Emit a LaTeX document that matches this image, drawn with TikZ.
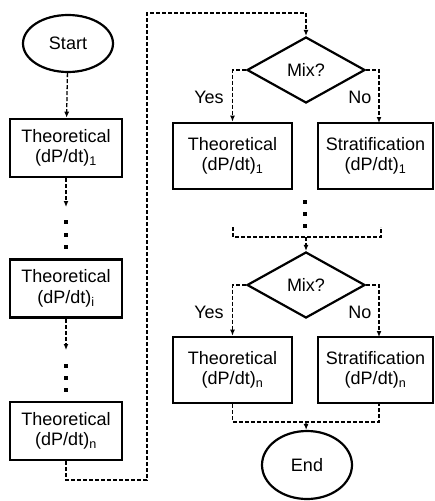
\documentclass[tikz,border=0pt]{standalone}
\usepackage{fontspec}
\setmainfont{Liberation Sans}
\usetikzlibrary{shapes.geometric,arrows.meta}
\begin{document}
\begin{tikzpicture}[x=1pt,y=-1pt,
  txt/.style={font=\fontsize{18}{20.5}\selectfont,align=center},
  lbox/.style={txt,draw,line width=2.6pt,minimum width=112pt,minimum height=58pt,inner sep=0pt},
  rbox/.style={txt,draw,line width=2.6pt,minimum height=66pt,inner sep=0pt},
  term/.style={txt,draw,ellipse,line width=2.2pt,minimum width=90pt,inner sep=0pt},
  decision/.style={txt,draw,diamond,line width=2.2pt,minimum width=118pt,minimum height=66pt,inner sep=0pt,shape aspect=1.79},
  conn/.style={line width=1.3pt,dash pattern=on 4pt off 2pt},
  arr/.style={conn,-{Latex[length=6pt,width=5pt]}},
  dot/.style={fill,rectangle,inner sep=0pt,minimum size=3.8pt},
  lab/.style={txt}]
\useasboundingbox (0,0) rectangle (435,501);

% left column
\node[term,minimum height=57pt] (start) at (68,43.5) {Start};
\node[lbox] (t1) at (66,148) {Theoretical\\(dP/dt)\textsubscript{1}};
\node[lbox] (ti) at (66,288.5) {Theoretical\\(dP/dt)\textsubscript{i}};
\node[lbox] (tn) at (66,431) {Theoretical\\(dP/dt)\textsubscript{n}};
\coordinate (a1) at (66,207);
\coordinate (a2) at (66,350);
\node[dot] (d11) at (66,222) {};
\node[dot] (d12) at (66,235) {};
\node[dot] (d13) at (66,247) {};
\node[dot] (d21) at (66,366) {};
\node[dot] (d22) at (66,378) {};
\node[dot] (d23) at (66,390) {};

% right column
\node[decision] (mix1) at (306,70) {Mix?};
\node[rbox,minimum width=119pt] (th1) at (232.5,156) {Theoretical\\(dP/dt)\textsubscript{1}};
\node[rbox,minimum width=115pt] (st1) at (375.5,156) {Stratification\\(dP/dt)\textsubscript{1}};
\node[dot] (d31) at (305,202) {};
\node[dot] (d32) at (305,214) {};
\node[dot] (d33) at (305,226) {};
\node[decision] (mix2) at (306,285) {Mix?};
\node[rbox,minimum width=119pt] (thn) at (232.5,370) {Theoretical\\(dP/dt)\textsubscript{n}};
\node[rbox,minimum width=115pt] (stn) at (375.5,370) {Stratification\\(dP/dt)\textsubscript{n}};
\node[term,minimum height=68pt] (end) at (307,465) {End};

\node[lab] (y1) at (209,97) {Yes};
\node[lab] (n1) at (360,97) {No};
\node[lab] (y2) at (209,312) {Yes};
\node[lab] (n2) at (360,312) {No};

% connectors
\draw[arr] (start) -- (t1);
\draw[arr] (t1) -- (a1);
\draw[arr] (ti) -- (a2);
\coordinate (p1) at (147,480);
\coordinate (p2) at (147,13);
\draw[arr] (tn.south) |- (p1) -- (p2) -| (mix1.north);
\coordinate (s1) at (379,123);
\coordinate (s2) at (379,337);
\draw[arr] (mix1.west) -| (th1.north);
\draw[arr] (mix1.east) -| (s1);
\coordinate (m1l) at (233,227);
\coordinate (m1r) at (381,227);
\coordinate (m1c) at (306,237);
\draw[conn] (m1l) |- (m1c) -| (m1r);
\draw[arr] (m1c) -- (mix2.north);
\draw[arr] (mix2.west) -| (thn.north);
\draw[arr] (mix2.east) -| (s2);
\coordinate (m2c) at (306,422);
\coordinate (s3) at (379,403);
\draw[conn] (thn.south) |- (m2c) -| (s3);
\draw[arr] (m2c) -- (end);
\end{tikzpicture}
\end{document}
